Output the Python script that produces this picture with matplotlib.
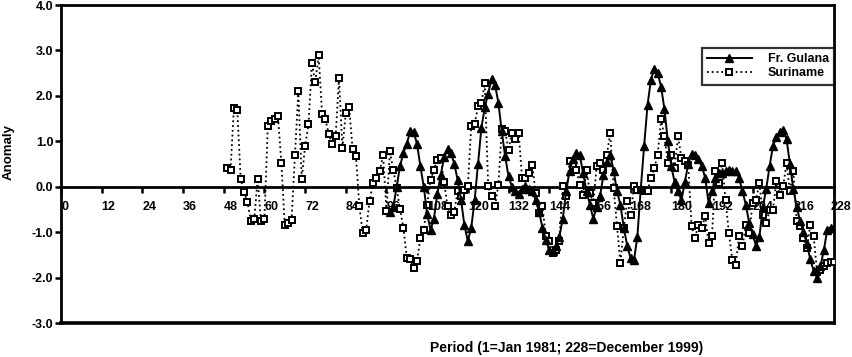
import numpy as np
import matplotlib
matplotlib.use("Agg")
import matplotlib.pyplot as plt
from matplotlib.transforms import offset_copy

plt.rcParams['font.family'] = ['Liberation Sans', 'DejaVu Sans']
plt.rcParams['font.weight'] = 'bold'
plt.rcParams['axes.unicode_minus'] = False

# Suriname, monthly anomalies, months 49..228
suriname = [
    0.42, 0.36, 1.74, 1.68, 0.17, -0.12, -0.34, -0.76, -0.71, 0.17,
    -0.76, -0.70, 1.34, 1.44, 1.50, 1.55, 0.52, -0.84, -0.80, -0.73,
    0.70, 2.10, 0.17, 0.90, 1.37, 2.72, 2.30, 2.89, 1.61, 1.48,
    1.15, 0.94, 1.11, 2.39, 0.85, 1.62, 1.75, 0.83, 0.67, -0.43,
    -1.02, -0.95, -0.32, 0.08, 0.20, 0.34, 0.70, -0.54, 0.78, 0.37,
    -0.03, -0.50, -0.91, -1.57,
    -1.60, -1.79, -1.64, -1.13, -0.95, -0.40, 0.15, 0.37, 0.59, 0.63,
    0.10, -0.43, -0.62, -0.55, -0.10, -0.21, -0.07, 0.01, 1.33, 1.37,
    1.77, 1.84, 2.28, 0.01, -0.21, -0.43, 0.04, 1.26, 1.22, 0.81,
    1.18, 1.04, 1.18, 0.19, 0.19, 0.30, 0.48, -0.14, -0.58, -0.43,
    -1.09, -1.20, -1.45, -1.39, -1.20, 0.01, -0.21, 0.56, 0.45, 0.37,
    0.04, -0.18, 0.37, -0.14, -0.36, 0.45, 0.52, 0.37, 0.70, 1.18,
    -0.03, -0.87, -1.68, -0.91, -0.32, -0.62, 0.01, -0.07, -0.07, -0.10,
    -0.10, 0.20, 0.41, 0.70, 1.48, 1.11, 0.52, 0.70, 0.41, 1.11,
    0.63, 0.56, 0.48, -0.87, -1.13, -0.84, -0.91, -0.65, -1.24, -1.09,
    0.34, 0.08, 0.52, -0.30, -1.02, -1.61, -1.72, -1.09, -1.31, -0.84,
    -1.02, -0.36, -0.29, 0.08, -0.62, -0.80, -0.51, -0.51, 0.12, -0.18,
    0.01, 0.52, -0.10, 0.34, -0.76, -0.87, -1.13, -1.35, -0.84, -1.09,
    -1.87, -1.83, -1.75, -1.68, -1.66, -1.66,
]
suriname_start = 49

# Fr. Guiana, monthly anomalies, months 97..228
guiana = [
    -0.55, -0.45, 0.0, 0.45, 0.75, 0.95, 1.22, 1.2, 0.95, 0.45,
    0.0, -0.6, -0.95, -0.7, -0.15, 0.25, 0.65, 0.82, 0.75, 0.5,
    0.15, -0.3, -0.85, -1.2, -0.9, -0.3, 0.5, 1.3, 1.75, 2.05,
    2.38, 2.25, 1.85, 1.22, 0.67, 0.23, 0.0, -0.1, -0.15, -0.05,
    0.02, -0.05, -0.1, -0.3, -0.55, -0.9, -1.17, -1.4, -1.42, -1.3,
    -1.1, -0.7, -0.1, 0.35, 0.6, 0.75, 0.7, 0.3, -0.1, -0.4,
    -0.7, -0.45, -0.2, 0.25, 0.55, 0.7, 0.35, -0.1, -0.4, -0.9,
    -1.3, -1.57, -1.62, -1.1, -0.05, 0.9, 1.8, 2.35, 2.6, 2.5,
    2.2, 1.7, 1.0, 0.45, 0.1, -0.1, -0.3, 0.1, 0.5, 0.72,
    0.7, 0.6, 0.45, 0.2, -0.35, -0.1, 0.2, 0.3, 0.3, 0.35,
    0.37, 0.35, 0.35, 0.2, -0.1, -0.4, -0.8, -1.05, -1.3, -1.1,
    -0.45, -0.05, 0.45, 0.9, 1.1, 1.2, 1.25, 1.05, 0.5, -0.05,
    -0.45, -0.75, -1.0, -1.25, -1.6, -1.85, -2.0, -1.75, -1.4, -0.95,
    -0.9, -0.9,
]
guiana_start = 97

x_ticks = list(range(0, 229, 12))
y_ticks = [-3, -2, -1, 0, 1, 2, 3, 4]

m_sur = np.arange(suriname_start, suriname_start + len(suriname))
m_gui = np.arange(guiana_start, guiana_start + len(guiana))

fig = plt.figure(figsize=(8.52, 3.57), dpi=100)
ax = fig.add_axes([61/852, 1 - 323/357, (834-61)/852, (323-5)/357])

ax.plot(m_sur, suriname, color='k', ls=':', lw=1.3, marker='s', ms=5,
        mfc='white', mec='k', mew=1.4, label='Suriname', zorder=3)
ax.plot(m_gui, guiana, color='k', ls='-', lw=1.4, marker='^', ms=6,
        mfc='k', mec='k', label='Fr. Gulana', zorder=4)

ax.set_xlim(0, 228)
ax.set_ylim(-3, 4)
ax.spines['bottom'].set_position(('data', 0))
for s in ax.spines.values():
    s.set_linewidth(2)
ax.axhline(-3, color='k', lw=2.6, clip_on=False, zorder=5)

ax.set_xticks(x_ticks)
ax.set_xticklabels([str(t) for t in x_ticks], ha='left')
ax.set_yticks(y_ticks)
ax.set_yticklabels(['%.1f' % t for t in y_ticks])
ax.tick_params(axis='both', direction='out', length=4, width=1.8,
               labelsize=9, pad=1.5)
ax.tick_params(axis='x', pad=6)

# keep the last label inside the figure
last = ax.get_xticklabels()[-1]
last.set_transform(offset_copy(last.get_transform(), fig=fig, x=-3, y=0,
                               units='dots'))

fig.text(9/852, 1 - 152/357, 'Anomaly', rotation=90, ha='center',
         va='center', fontsize=9.5, fontweight='bold')
fig.text(567/852, 1 - 348/357, 'Period (1=Jan 1981; 228=December 1999)',
         ha='center', va='center', fontsize=10, fontweight='bold')

h, l = ax.get_legend_handles_labels()
leg = ax.legend(h[::-1], l[::-1], loc='upper right',
                bbox_to_anchor=(1.0, (323-48)/318), frameon=True,
                fancybox=False, fontsize=9, handlelength=3.6,
                handletextpad=1.3, borderpad=0.4, labelspacing=0.2,
                borderaxespad=0)
leg.get_frame().set_edgecolor('k')
leg.get_frame().set_linewidth(1.6)

fig.savefig('out.png', dpi=100)
